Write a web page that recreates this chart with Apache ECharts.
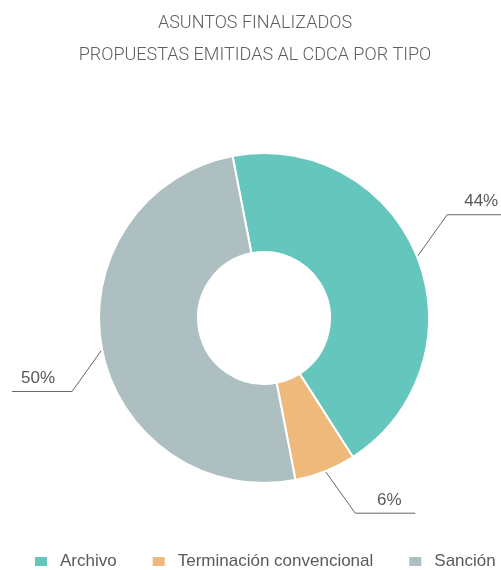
<!DOCTYPE html>
<html>
<head>
<meta charset="utf-8">
<script src="https://cdn.jsdelivr.net/npm/echarts@6/dist/echarts.min.js"></script>
<style>
    html, body { margin: 0; padding: 0; background: #fff; }
    #chart { width: 501px; height: 570px; }
</style>
</head>
<body>
<div id="chart"></div>
<script>
// datos del gráfico
const categorias = ['Archivo', 'Terminación convencional', 'Sanción'];
const porcentajes = [44, 6, 50];
const colores = ['#65c6be', '#efb97c', '#aebfc1'];

const tituloLineas = ['ASUNTOS FINALIZADOS', 'PROPUESTAS EMITIDAS AL CDCA POR TIPO'];

const chart = echarts.init(document.getElementById('chart'));

// líneas guía: tramo inclinado + tramo horizontal, texto encima del tramo horizontal
function colocarEtiqueta(p) {
    const pts = p.labelLinePoints;
    if (!pts) return {};
    const a = pts[0];
    const sx = pts[1][0] >= a[0] ? 1 : -1;
    const sy = pts[1][1] >= a[1] ? 1 : -1;
    const b = [a[0] + sx * 30, a[1] + sy * 42];
    const c = [b[0] + sx * 60, b[1]];
    return {
        labelLinePoints: [a, b, c],
        x: (b[0] + c[0]) / 2 + sx * 4,
        y: b[1] - 13,
        align: 'center',
        verticalAlign: 'middle'
    };
}

const option = {
    backgroundColor: '#fff',
    animation: false,
    title: {
        text: tituloLineas.join('\n'),
        left: 255,
        textAlign: 'center',
        top: 7,
        padding: 0,
        textStyle: {
            fontFamily: 'Roboto',
            fontWeight: 300,
            fontSize: 18,
            lineHeight: 32,
            color: '#5f5f5f'
        }
    },
    legend: {
        data: categorias,
        left: 33,
        bottom: 0,
        width: 480,
        padding: 0,
        itemWidth: 14,
        itemHeight: 11,
        itemGap: 34,
        icon: 'rect',
        textStyle: {
            fontFamily: 'Liberation Sans, Arial',
            fontSize: 17,
            color: '#5a5a5a',
            padding: [0, 0, 0, 7]
        }
    },
    series: [{
        type: 'pie',
        center: [264, 318],
        radius: [66, 165],
        startAngle: 101,
        clockwise: true,
        avoidLabelOverlap: false,
        itemStyle: { borderColor: '#fff', borderWidth: 2 },
        label: {
            show: true,
            formatter: '{d}%',
            fontFamily: 'Liberation Sans, Arial',
            fontSize: 17,
            color: '#595959'
        },
        labelLine: {
            show: true,
            length: 30,
            length2: 60,
            lineStyle: { color: '#666', width: 1 }
        },
        labelLayout: colocarEtiqueta,
        emphasis: { disabled: true },
        data: categorias.map((n, i) => ({
            name: n,
            value: porcentajes[i],
            itemStyle: { color: colores[i] }
        }))
    }]
};

chart.setOption(option);
</script>
</body>
</html>
